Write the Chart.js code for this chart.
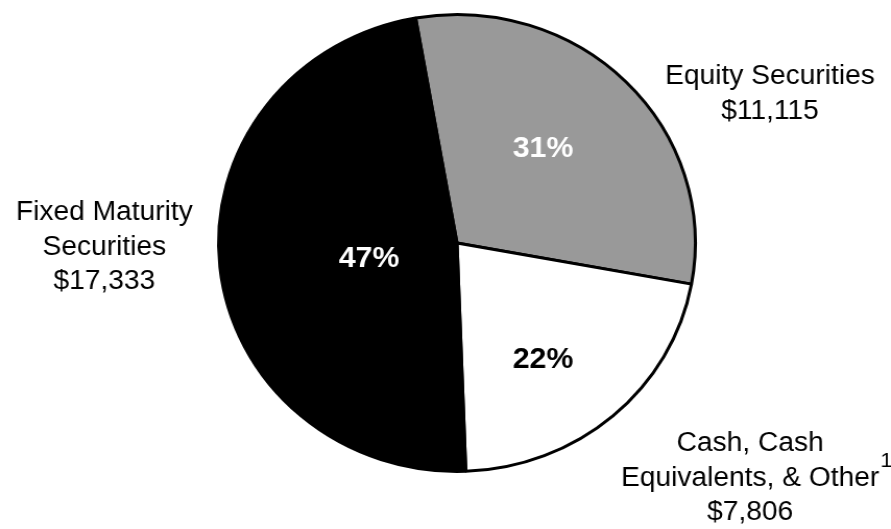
<!DOCTYPE html>
<html>
<head>
<meta charset="utf-8">
<script src="https://cdn.jsdelivr.net/npm/chart.js@4.4.1/dist/chart.umd.min.js"></script>
<style>
  html, body { margin: 0; padding: 0; background: #fff; overflow: hidden; }
  /* the pie is printed slightly wider than tall */
  #wrap { width: 854px; height: 529px; transform: scaleX(1.0433); transform-origin: 0 0; }
</style>
</head>
<body>
<div id="wrap"><canvas id="allocChart" width="854" height="529" style="width:854px;height:529px"></canvas></div>
<script>
const categories = ['Equity Securities', 'Cash, Cash Equivalents, & Other', 'Fixed Maturity Securities'];
const amounts = [11115, 7806, 17333];
const percentLabels = ['31%', '22%', '47%'];
const sliceColors = ['#999999', '#ffffff', '#000000'];
const percentColors = ['#ffffff', '#000000', '#ffffff'];
const nameLines = [
  ['Equity Securities'],
  ['Cash, Cash', 'Equivalents, & Other'],
  ['Fixed Maturity', 'Securities']
];
const footnotes = [null, '1', null];

// where each label sits, relative to the pie centre / canvas
const pctOffsets = [[0.361, -0.41], [0.361, 0.512], [-0.369, 0.07]];
const calloutAnchors = [[738, 77], [719, 444], [100, 213]];
const LINE_H = 34.5;
const FONT = '"Liberation Sans", Helvetica, Arial, sans-serif';

const fmtMoney = v => '$' + v.toLocaleString('en-US');

const labelPlugin = {
  id: 'sliceLabels',
  afterDatasetsDraw(chart) {
    const ctx = chart.ctx;
    const arcs = chart.getDatasetMeta(0).data;
    ctx.save();
    ctx.textAlign = 'center';
    ctx.textBaseline = 'middle';

    // percentages inside the slices
    ctx.font = 'bold 29px ' + FONT;
    arcs.forEach((arc, i) => {
      const r = arc.outerRadius;
      ctx.fillStyle = percentColors[i];
      ctx.fillText(percentLabels[i], arc.x + pctOffsets[i][0] * r, arc.y + pctOffsets[i][1] * r);
    });

    // category names and amounts outside
    ctx.fillStyle = '#000';
    arcs.forEach((arc, i) => {
      const [x, y0] = calloutAnchors[i];
      const lines = nameLines[i].concat([fmtMoney(amounts[i])]);
      ctx.font = '27px ' + FONT;
      lines.forEach((txt, j) => {
        const y = y0 + j * LINE_H;
        ctx.fillText(txt, x, y);
        if (footnotes[i] && j === nameLines[i].length - 1) {
          const w = ctx.measureText(txt).width;
          ctx.save();
          ctx.font = '21px ' + FONT;
          ctx.textAlign = 'left';
          ctx.fillText(footnotes[i], x + w / 2 + 1, y - 17);
          ctx.restore();
          ctx.font = '27px ' + FONT;
        }
      });
    });
    ctx.restore();
  }
};

new Chart(document.getElementById('allocChart'), {
  type: 'pie',
  data: {
    labels: categories,
    datasets: [{
      data: amounts,
      backgroundColor: sliceColors,
      borderColor: '#000000',
      borderWidth: 3
    }]
  },
  options: {
    responsive: false,
    devicePixelRatio: 1,
    animation: false,
    rotation: -10,
    layout: { padding: { top: 13, bottom: 56, left: 200, right: 178 } },
    plugins: {
      legend: { display: false },
      tooltip: { enabled: false }
    }
  },
  plugins: [labelPlugin]
});
</script>
</body>
</html>
